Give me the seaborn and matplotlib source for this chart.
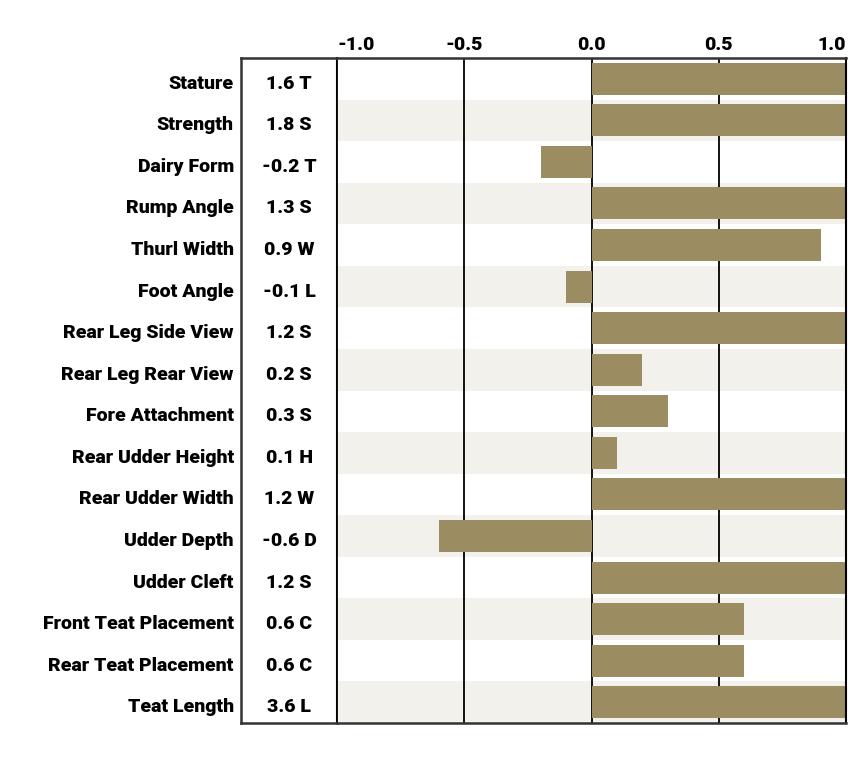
import pandas as pd
import matplotlib.pyplot as plt
import matplotlib.transforms as mtransforms
import seaborn as sns

traits = [
    "Stature", "Strength", "Dairy Form", "Rump Angle", "Thurl Width",
    "Foot Angle", "Rear Leg Side View", "Rear Leg Rear View",
    "Fore Attachment", "Rear Udder Height", "Rear Udder Width",
    "Udder Depth", "Udder Cleft", "Front Teat Placement",
    "Rear Teat Placement", "Teat Length",
]
values = [1.6, 1.8, -0.2, 1.3, 0.9, -0.1, 1.2, 0.2, 0.3, 0.1, 1.2, -0.6, 1.2, 0.6, 0.6, 3.6]
codes = ["T", "S", "T", "S", "W", "L", "S", "S", "S", "H", "W", "D", "S", "C", "C", "L"]
ticks = [-1.0, -0.5, 0.0, 0.5, 1.0]

df = pd.DataFrame({"Trait": traits, "Value": values, "Code": codes})

sns.set_style("white")
plt.rcParams["font.family"] = ["Roboto", "DejaVu Sans"]
plt.rcParams["text.color"] = "black"
plt.rcParams["xtick.color"] = "black"

bar_color = "#9c8c62"
shade = "#f3f1ec"
edge = "#333333"
fsize = 14
fweight = "black"

fig = plt.figure(figsize=(8.55, 7.57), dpi=100)
ax_box = fig.add_axes([241 / 855, 34 / 757, 96 / 855, 665 / 757])
ax = fig.add_axes([337 / 855, 34 / 757, 509 / 855, 665 / 757], sharey=ax_box)

# main bars
for i in range(len(traits)):
    if i % 2 == 1:
        ax.axhspan(i - 0.5, i + 0.5, color=shade, zorder=0, lw=0)
sns.barplot(data=df, x="Value", y="Trait", color=bar_color, width=0.77,
            saturation=1, linewidth=0, ax=ax, zorder=2)
ax.set_xlim(-1, 1)
ax.set_ylim(len(traits) - 0.5, -0.5)
ax.set_xticks(ticks)
ax.set_xticklabels([f"{t:.1f}" for t in ticks])
ax.xaxis.tick_top()
ax.tick_params(axis="x", length=0, pad=3, labelcolor="black")
labels = ax.get_xticklabels()
for lbl in labels:
    lbl.set_fontweight(fweight)
    lbl.set_fontsize(fsize)
labels[0].set_horizontalalignment("left")
labels[-1].set_horizontalalignment("right")
for t in ticks:
    ax.axvline(t, color="black", lw=1.3, zorder=1)
ax.set_xlabel("")
ax.set_ylabel("")
ax.tick_params(axis="y", left=False, labelleft=False)
for side in ["top", "bottom"]:
    ax.spines[side].set_color(edge)
    ax.spines[side].set_linewidth(1.8)
ax.spines["left"].set_visible(False)
ax.spines["right"].set_color("black")
ax.spines["right"].set_linewidth(1.5)

# value box on the left, with trait names outside it
ax_box.set_xlim(0, 1)
shift = mtransforms.ScaledTranslation(0, -5 / 100, fig.dpi_scale_trans)
data_tr = ax_box.transData + shift
name_tr = mtransforms.blended_transform_factory(ax_box.transAxes, ax_box.transData) + shift
for i, (name, v, c) in enumerate(zip(traits, values, codes)):
    ax_box.text(0.5, i, f"{v:.1f} {c}", ha="center", va="center",
                fontsize=fsize, fontweight=fweight, transform=data_tr)
    ax_box.text(-0.075, i, name, ha="right", va="center",
                fontsize=fsize, fontweight=fweight, transform=name_tr)
ax_box.set_xticks([])
ax_box.set_yticks([])
for side in ["top", "bottom", "left"]:
    ax_box.spines[side].set_color(edge)
    ax_box.spines[side].set_linewidth(1.8)
ax_box.spines["right"].set_color("black")
ax_box.spines["right"].set_linewidth(1.5)

fig.savefig("out.png", dpi=100)
